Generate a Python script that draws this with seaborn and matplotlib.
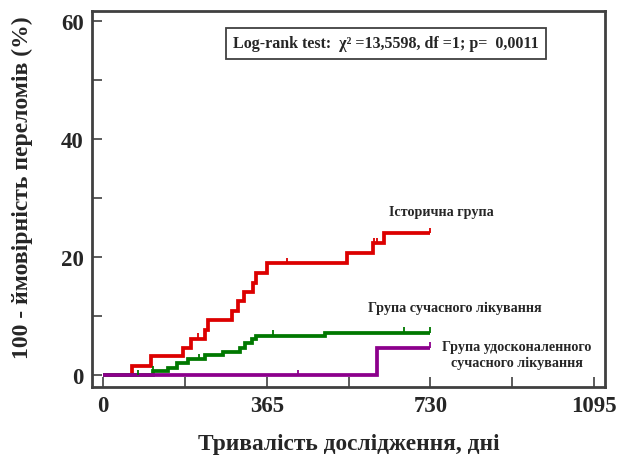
import numpy as np
import pandas as pd
import matplotlib
matplotlib.use("Agg")
import matplotlib.pyplot as plt
from matplotlib.ticker import MultipleLocator
import seaborn as sns

# Cumulative fracture incidence (100 - survival, %) by study day
hist_days = [0, 64, 108, 179, 197, 227, 233, 288, 301, 315, 335, 342, 366, 543, 601, 626, 730]
hist_pct = [0, 1.5, 3.2, 4.7, 6.2, 7.7, 9.4, 10.9, 12.5, 14.1, 15.7, 17.3, 19.0, 20.7, 22.4, 24.1, 24.1]
hist_censored = [211, 411, 604, 610, 730]

modern_days = [0, 111, 146, 164, 190, 227, 268, 305, 316, 333, 342, 494, 730]
modern_pct = [0, 0.7, 1.3, 2.1, 2.7, 3.4, 3.9, 4.7, 5.4, 6.1, 6.7, 7.2, 7.2]
modern_censored = [78, 111, 215, 378, 672, 730]

improved_days = [0, 611, 730]
improved_pct = [0, 4.7, 4.7]
improved_censored = [434, 730]

group_names = ["Історична група", "Група сучасного лікування",
               "Група удосконаленного\nсучасного лікування"]
group_colors = ["#dc0000", "#007800", "#8c008c"]

x_ticks = [0, 365, 730, 1095]
y_ticks = [0, 20, 40, 60]
logrank_text = "Log-rank test:  χ² =13,5598, df =1; p=  0,0011"

series = [
    (hist_days, hist_pct, hist_censored),
    (modern_days, modern_pct, modern_censored),
    (improved_days, improved_pct, improved_censored),
]

frames = []
for idx, (d, p, _) in enumerate(series):
    frames.append(pd.DataFrame({"day": d, "pct": p, "group": group_names[idx]}))
df = pd.concat(frames, ignore_index=True)

sns.set_theme(style="white")
plt.rcParams["font.family"] = ["Liberation Serif", "DejaVu Serif"]
plt.rcParams["font.weight"] = "bold"

fig = plt.figure(figsize=(6.19, 4.56), dpi=100)
ax = fig.add_axes([0.1486, 0.149, 0.8288, 0.8247])

palette = {group_names[i]: group_colors[i] for i in range(3)}
sns.lineplot(data=df, x="day", y="pct", hue="group", palette=palette,
             hue_order=group_names,
             estimator=None, sort=False, drawstyle="steps-post",
             linewidth=2.7, legend=False, ax=ax)
for line in ax.lines:
    line.set_solid_joinstyle("miter")
    line.set_solid_capstyle("butt")
    if line.get_color() == group_colors[2]:
        line.set_zorder(3)

# censoring marks: short upward ticks at the step value
def step_value(days, pct, t):
    i = np.searchsorted(days, t, side="right") - 1
    return pct[max(i, 0)]

for idx, (d, p, cens) in enumerate(series):
    ys = [step_value(d, p, t) for t in cens]
    ax.vlines(cens, ys, [y + 0.9 for y in ys], color=group_colors[idx], lw=1.3, zorder=3)

ax.set_xlim(-24.5, 1119)
ax.set_ylim(-2.0, 61.7)
ax.set_xticks(x_ticks)
ax.set_yticks(y_ticks)
ax.xaxis.set_minor_locator(MultipleLocator(182.5))
ax.yaxis.set_minor_locator(MultipleLocator(10))
ax.tick_params(which="both", direction="in", length=7, width=1.2, color="#404040",
               bottom=True, left=True, top=False, right=False)
ax.tick_params(axis="both", labelsize=16.5, pad=6)
for lab in ax.get_xticklabels() + ax.get_yticklabels():
    lab.set_fontweight("bold")
for s in ax.spines.values():
    s.set_color("#404040")
    s.set_linewidth(2.0)

ax.set_xlabel("Тривалість дослідження, дні", fontsize=16.8, fontweight="bold", labelpad=12)
ax.set_ylabel("100 - ймовірність переломів (%)", fontsize=17, fontweight="bold")
ax.yaxis.set_label_coords(-0.115, 0.532)

ax.text(0.573, 0.9136, logrank_text, transform=ax.transAxes, ha="center", va="center",
        fontsize=11.5, fontweight="bold",
        bbox=dict(boxstyle="square,pad=0.45", fc="white", ec="#404040", lw=1.3))

ax.text(0.681, 0.468, group_names[0], transform=ax.transAxes, ha="center", va="center",
        fontsize=10.2, fontweight="bold")
ax.text(0.708, 0.212, group_names[1], transform=ax.transAxes, ha="center", va="center",
        fontsize=10.2, fontweight="bold")
ax.text(0.828, 0.087, group_names[2], transform=ax.transAxes, ha="center", va="center",
        fontsize=10.2, fontweight="bold", linespacing=1.25)

fig.savefig("out.png", dpi=100)
